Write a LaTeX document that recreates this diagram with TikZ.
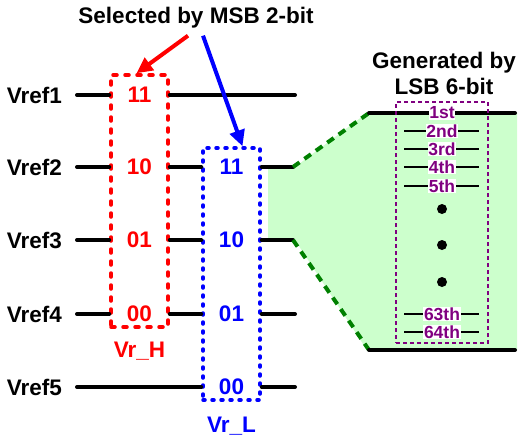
\documentclass[tikz,border=0pt]{standalone}
\usepackage{fontspec}
\setmainfont{Liberation Sans}
\usetikzlibrary{arrows.meta, positioning}

\definecolor{lsbgreen}{RGB}{0,128,0}
\definecolor{lsbfill}{RGB}{204,255,204}
\definecolor{lsbpurple}{RGB}{128,0,128}

\tikzset{
  txt/.style={font=\fontsize{22.5}{26}\selectfont\bfseries, inner sep=0pt},
  small/.style={font=\fontsize{17.5}{20}\selectfont\bfseries, text=lsbpurple, fill=white, inner sep=0.6pt},
  lvl/.style={line width=4pt, line cap=round},
  hbox/.style={draw=red, line width=3.5pt, line cap=round, dash pattern=on 4pt off 8pt, minimum width=57pt, minimum height=252pt, inner sep=0pt},
  lbox/.style={draw=blue, line width=3.5pt, line cap=round, dash pattern=on 2pt off 7pt, minimum width=57pt, minimum height=252pt, inner sep=0pt},
  pbox/.style={draw=lsbpurple, line width=2.5pt, dash pattern=on 4pt off 3pt, minimum width=92pt, minimum height=241pt, inner sep=0pt},
  gdash/.style={draw=lsbgreen, line width=4pt, dash pattern=on 8pt off 6pt},
  sel/.style={line width=4pt, -{Triangle[length=16pt,width=15pt]}}
}

\begin{document}
\begin{tikzpicture}[x=1pt, y=-1pt]
\useasboundingbox (0,0) rectangle (521,442);

\fill[lsbfill] (268,167) -- (295,167) -- (367,113) -- (517,113) -- (517,350) -- (367,350) -- (295,240) -- (268,240) -- cycle;

\node[txt] (title) at (196,18) {Selected by MSB 2-bit};
\node[txt, align=center] (gen) at (444,73) {Generated by\\LSB 6-bit};

\node[txt, anchor=east] (v1) at (62,95) {Vref1};
\node[txt, anchor=east] (v2) at (62,167) {Vref2};
\node[txt, anchor=east] (v3) at (62,240) {Vref3};
\node[txt, anchor=east] (v4) at (62,314) {Vref4};
\node[txt, anchor=east] (v5) at (62,387) {Vref5};

\node[hbox] (boxH) at (139.5,201) {};
\node[lbox] (boxL) at (231.5,274) {};

\node[txt, text=red] (h11) at (139.5,95) {11};
\node[txt, text=red] (h10) at (139.5,167) {10};
\node[txt, text=red] (h01) at (139.5,240) {01};
\node[txt, text=red] (h00) at (139.5,314) {00};
\node[txt, text=blue] (l11) at (231.5,167) {11};
\node[txt, text=blue] (l10) at (231.5,240) {10};
\node[txt, text=blue] (l01) at (231.5,314) {01};
\node[txt, text=blue] (l00) at (231.5,387) {00};

\node[txt, text=red, below=13pt of boxH] (vrh) {Vr\_H};
\node[txt, text=blue, below=15pt of boxL] (vrl) {Vr\_L};

\coordinate (r1) at (295,95);
\coordinate (g2) at (293,167);
\coordinate (g3) at (293,240);
\coordinate (r4) at (295,314);
\coordinate (r5) at (295,387);
\coordinate (t1) at (369,113);
\coordinate (t2) at (515,113);
\coordinate (b1) at (369,350);
\coordinate (b2) at (515,350);

\draw[lvl] ([xshift=15pt]v1.east) -- (boxH.west |- v1);
\draw[lvl] (boxH.east |- v1) -- (r1);
\draw[lvl] ([xshift=15pt]v2.east) -- (boxH.west |- v2);
\draw[lvl] (boxH.east |- v2) -- (boxL.west |- v2);
\draw[lvl] (boxL.east |- v2) -- (g2);
\draw[lvl] ([xshift=15pt]v3.east) -- (boxH.west |- v3);
\draw[lvl] (boxH.east |- v3) -- (boxL.west |- v3);
\draw[lvl] (boxL.east |- v3) -- (g3);
\draw[lvl] ([xshift=15pt]v4.east) -- (boxH.west |- v4);
\draw[lvl] (boxH.east |- v4) -- (boxL.west |- v4);
\draw[lvl] (boxL.east |- v4) -- (r4);
\draw[lvl] ([xshift=15pt]v5.east) -- (boxL.west |- v5);
\draw[lvl] (boxL.east |- v5) -- (r5);

\draw[gdash] (g2) -- (t1);
\draw[gdash] (g3) -- (b1);
\draw[lvl] (t1) -- (t2);
\draw[lvl] (b1) -- (b2);

\draw[line width=2.5pt] (404,131) -- (479,131);
\draw[line width=2.5pt] (404,149) -- (479,149);
\draw[line width=2.5pt] (404,167) -- (479,167);
\draw[line width=2.5pt] (404,186) -- (479,186);
\draw[line width=2.5pt] (404,314) -- (479,314);
\draw[line width=2.5pt] (404,332) -- (479,332);
\node[small] (n1) at (442,113) {1st};
\node[small] (n2) at (442,131) {2nd};
\node[small] (n3) at (442,149) {3rd};
\node[small] (n4) at (442,167) {4th};
\node[small] (n5) at (442,186) {5th};
\node[small] (n63) at (442,314) {63th};
\node[small] (n64) at (442,332) {64th};
\foreach \y in {209,245,282}
  \fill (442,\y) circle (5pt);
\node[pbox] (boxP) at (442,222.5) {};

\draw[sel, red] ([xshift=-8pt, yshift=-7pt]title.south) -- ([xshift=-3pt]boxH.north);
\draw[sel, blue] ([xshift=7pt, yshift=-7pt]title.south) -- ([xshift=11pt]boxL.north);
\end{tikzpicture}
\end{document}
